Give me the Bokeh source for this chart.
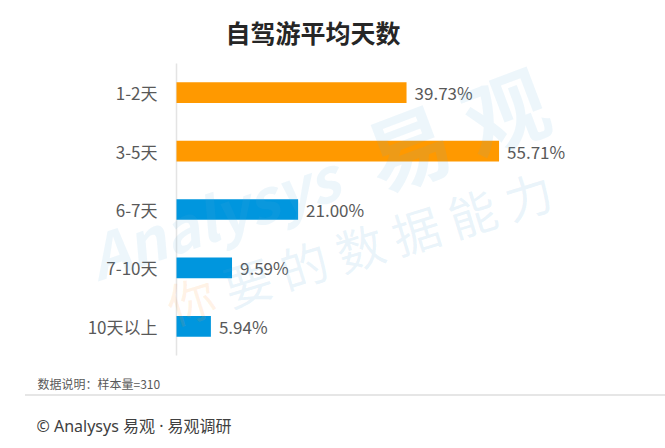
from bokeh.plotting import figure
from bokeh.models import ColumnDataSource, Range1d, Label
from bokeh.core.properties import value
from bokeh.embed import file_html
from bokeh.resources import INLINE

# ---- data ----
categories = ["1-2天", "3-5天", "6-7天", "7-10天", "10天以上"]
shares = [39.73, 55.71, 21.00, 9.59, 5.94]
bar_colors = ["#ff9900", "#ff9900", "#0096de", "#0096de", "#0096de"]
title_text = "自驾游平均天数"
note_text = "数据说明：样本量=310"
source_text = "© Analysys 易观 · 易观调研"

FONT = "Noto Sans CJK SC"
LATIN_FIRST = "Noto Sans, Noto Sans CJK SC"
W, H = 665, 448

# layout constants (canvas px)
AXIS_X = 176.0      # canvas x of value 0
PX_PER_PCT = 5.79
CAT_BOTTOM = 355.0  # canvas y of the bottom of the category band
CAT_STEP = 58.4     # px per category

n = len(categories)
pos = [n - i - 0.5 for i in range(n)]   # top category first
labels = [f"{v:.2f}%" for v in shares]
src = ColumnDataSource(dict(pos=pos, cat=categories, val=shares, color=bar_colors, lab=labels))

x_range = Range1d(-AXIS_X / PX_PER_PCT, (W - AXIS_X) / PX_PER_PCT)
y_range = Range1d((CAT_BOTTOM - H) / CAT_STEP, CAT_BOTTOM / CAT_STEP)

p = figure(width=W, height=H, x_range=x_range, y_range=y_range,
           output_backend="svg", toolbar_location=None,
           min_border=0, min_border_left=0, min_border_right=0,
           min_border_top=0, min_border_bottom=0)
p.outline_line_color = None
p.grid.visible = False
p.axis.visible = False
p.background_fill_color = "white"
p.border_fill_color = "white"

# category axis line
p.segment(x0=0, y0=0, x1=0, y1=n, line_color="#e4e4e4", line_width=1.5)

# bars
p.hbar(y="pos", right="val", left=0, height=0.355, fill_color="color",
       line_color=None, source=src)

# category labels
p.text(x=0, y="pos", text="cat", source=src, x_offset=-19,
       text_font=value(FONT), text_font_size="17px", text_color="#595959",
       text_baseline="middle", text_align="right")

# value labels
p.text(x="val", y="pos", text="lab", source=src, x_offset=8,
       text_font=value(FONT), text_font_size="17px", text_color="#595959",
       text_baseline="middle", text_align="left")

def sx(px):
    return px

def sy(py):
    return H - py

# watermark
wm_blue = "#5aa9dc"
p.add_layout(Label(x=sx(212), y=sy(214), x_units="screen", y_units="screen",
                   text="Analysys", text_font=FONT, text_font_size="60px",
                   text_font_style="bold italic", text_color=wm_blue, text_alpha=0.11,
                   text_align="center", text_baseline="middle", angle=0.33))
p.add_layout(Label(x=sx(455), y=sy(126), x_units="screen", y_units="screen",
                   text="易 观", text_font=FONT, text_font_size="84px",
                   text_font_style="bold", text_color=wm_blue, text_alpha=0.11,
                   text_align="center", text_baseline="middle", angle=0.36))
p.add_layout(Label(x=sx(190), y=sy(298), x_units="screen", y_units="screen",
                   text="你", text_font=FONT, text_font_size="48px",
                   text_color="#ff9a3c", text_alpha=0.13,
                   text_align="center", text_baseline="middle", angle=0.30))
p.add_layout(Label(x=sx(387), y=sy(237), x_units="screen", y_units="screen",
                   text="要 的 数 据 能 力", text_font=FONT, text_font_size="48px",
                   text_color=wm_blue, text_alpha=0.13,
                   text_align="center", text_baseline="middle", angle=0.30))

# title
p.add_layout(Label(x=sx(312.5), y=sy(31.5), x_units="screen", y_units="screen",
                   text=title_text, text_font=FONT, text_font_size="25px",
                   text_font_style="bold", text_color="#262626",
                   text_align="center", text_baseline="middle"))

# footer note
p.add_layout(Label(x=sx(37), y=sy(383), x_units="screen", y_units="screen",
                   text=note_text, text_font=FONT, text_font_size="12px",
                   text_color="#595959", text_align="left", text_baseline="middle"))

# dotted separator (spans the page width)
sep_y = y_range.start + (H - 394.5) / CAT_STEP
p.segment(x0=x_range.start + 25 / PX_PER_PCT, y0=sep_y, x1=x_range.end, y1=sep_y,
          line_color="#9a9a9a", line_dash="1 1", line_width=1)

# source
p.add_layout(Label(x=sx(36), y=sy(425), x_units="screen", y_units="screen",
                   text=source_text, text_font=LATIN_FIRST, text_font_size="16px",
                   text_color="#404040", text_align="left", text_baseline="middle"))

open("out.html", "w").write(file_html(p, INLINE))
